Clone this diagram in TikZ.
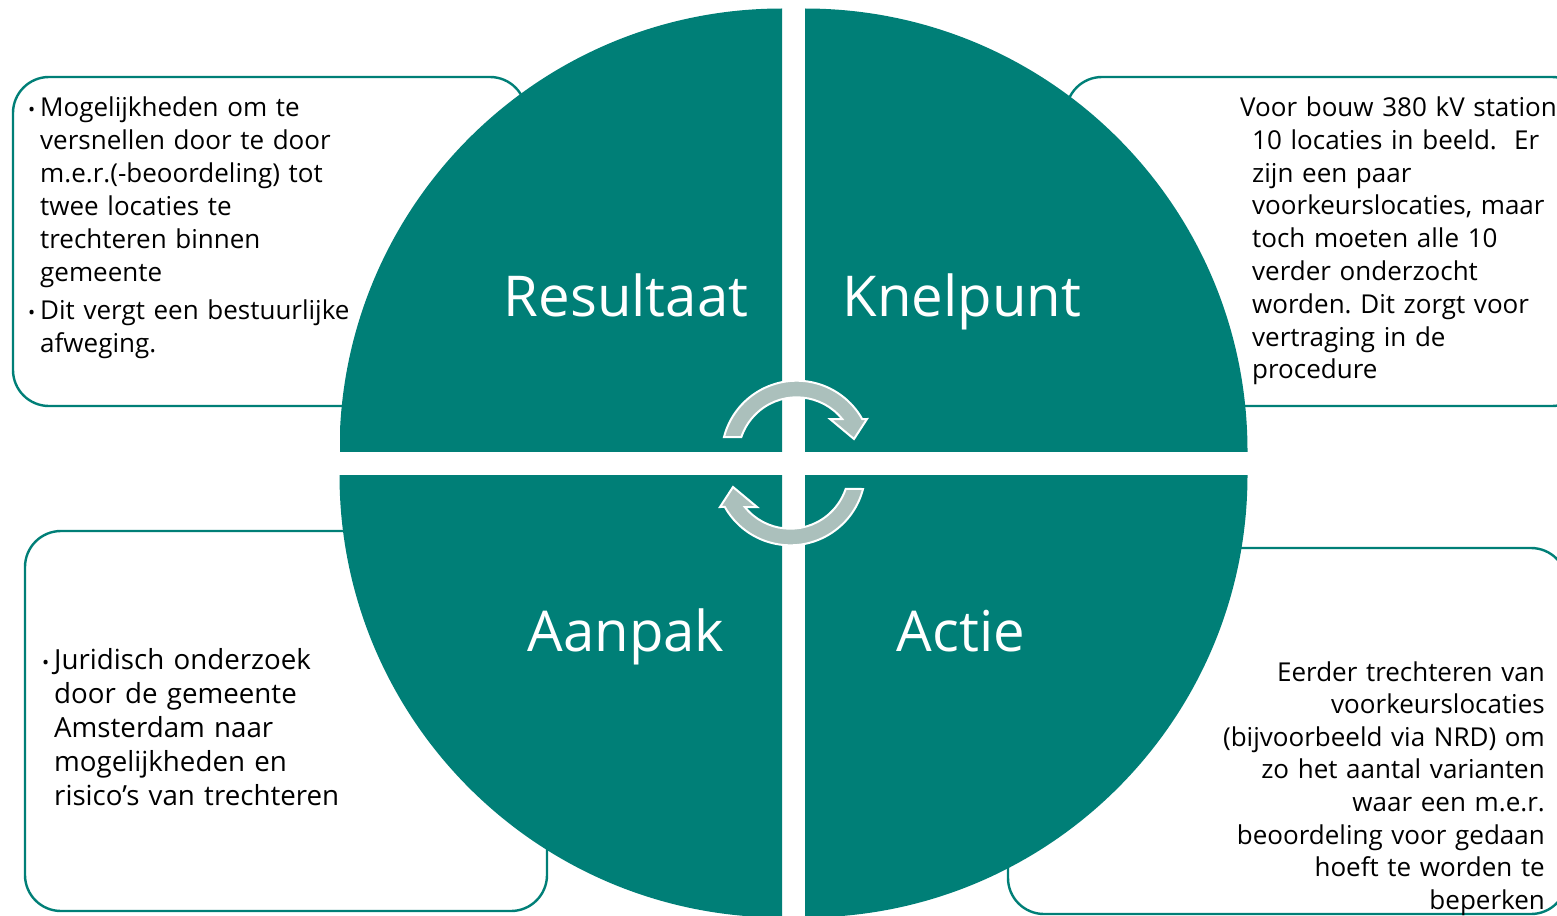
\documentclass[tikz,border=0pt]{standalone}
\usepackage{fontspec}
\setmainfont{Open Sans}
\definecolor{tealq}{RGB}{0,127,119}
\definecolor{arrowgray}{RGB}{171,192,188}
\newcommand{\mybul}{\makebox[12pt][l]{\fontsize{19}{19}\selectfont •}}
\newcommand{\myind}{\hspace*{12pt}}
\frenchspacing
\begin{document}
\begin{tikzpicture}[x=1pt,y=-1pt,
  infobox/.style={draw=tealq, line width=2.4pt, fill=white, rounded corners=36pt},
  quad/.style={fill=tealq},
  cyc/.style={fill=arrowgray, draw=white, line width=2pt, line join=miter},
  title/.style={text=white, font=\fontsize{56.3}{68}\selectfont, inner sep=0pt, anchor=base},
  body/.style={text=black, font=\fontsize{26}{33}\selectfont, inner sep=0pt, text width=520pt, align=left}
]
\useasboundingbox (0,0) rectangle (1557,915);
\clip (0,0) rectangle (1557,915);

% text boxes (behind the circle)
\draw[infobox] (13,77) rectangle (526,406);
\draw[infobox] (1066,77) rectangle (1588,406);
\draw[infobox] (25,531) rectangle (547,911);
\draw[infobox] (1008,548) rectangle (1567,914);

% quarter circles
\begin{scope}
  \clip (340,0) rectangle (782,451);
  \fill[quad] (782,451) circle[radius=442.5pt];
\end{scope}
\begin{scope}
  \clip (805,0) rectangle (1260,451);
  \fill[quad] (805,451) circle[radius=442.5pt];
\end{scope}
\begin{scope}
  \clip (330,475) rectangle (782,915);
  \fill[quad] (782,475) circle[radius=442.5pt];
\end{scope}
\begin{scope}
  \clip (805,475) rectangle (1260,915);
  \fill[quad] (805,475) circle[radius=442.5pt];
\end{scope}

% circular arrows
\path[cyc] (724,437) arc[start angle=165.5, end angle=29.3, radius=75.1pt]
  -- (867,419) -- (854,439) -- (830,419) -- (842.2,419)
  arc[start angle=39, end angle=161.3, radius=58.5pt] -- cycle;
\begin{scope}[rotate around={180:(793.5,463)}]
\path[cyc] (724,437) arc[start angle=165.5, end angle=29.3, radius=75.1pt]
  -- (867,419) -- (854,439) -- (830,419) -- (842.2,419)
  arc[start angle=39, end angle=161.3, radius=58.5pt] -- cycle;
\end{scope}

% titles
\node[title] (res) at (626,316) {Resultaat};
\node[title] (kne) at (962,316) {Knelpunt};
\node[title] (aan) at (626,651) {Aanpak};
\node[title] (act) at (961,651) {Actie};

% texts
\node[body, anchor=base west] (tltext) at (28,116.5) {\mybul Mogelijkheden om te\\
\myind versnellen door te door\\
\myind m.e.r.(-beoordeling) tot\\
\myind twee locaties te\\
\myind trechteren binnen\\
\myind gemeente\\[5pt]
\mybul Dit vergt een bestuurlijke\\
\myind afweging.};

\node[body, anchor=base west, font=\fontsize{26}{32.8}\selectfont] (trtext) at (1240,116.5) {Voor bouw 380 kV station\\
\myind 10 locaties in beeld.\ \ Er\\
\myind zijn een paar\\
\myind voorkeurslocaties, maar\\
\myind toch moeten alle 10\\
\myind verder onderzocht\\
\myind worden. Dit zorgt voor\\
\myind vertraging in de\\
\myind procedure};

\node[body, anchor=base west, font=\fontsize{27.7}{34}\selectfont] (bltext) at (42,669.5) {\mybul Juridisch onderzoek\\
\myind door de gemeente\\
\myind Amsterdam naar\\
\myind mogelijkheden en\\
\myind risico’s van trechteren};

\node[body, anchor=base east, align=right, font=\fontsize{26}{32.6}\selectfont] (brtext) at (1545,681) {Eerder trechteren van\\
voorkeurslocaties\\
(bijvoorbeeld via NRD) om\\
zo het aantal varianten\\
waar een m.e.r.\\
beoordeling voor gedaan\\
hoeft te worden te\\
beperken};
\end{tikzpicture}
\end{document}
